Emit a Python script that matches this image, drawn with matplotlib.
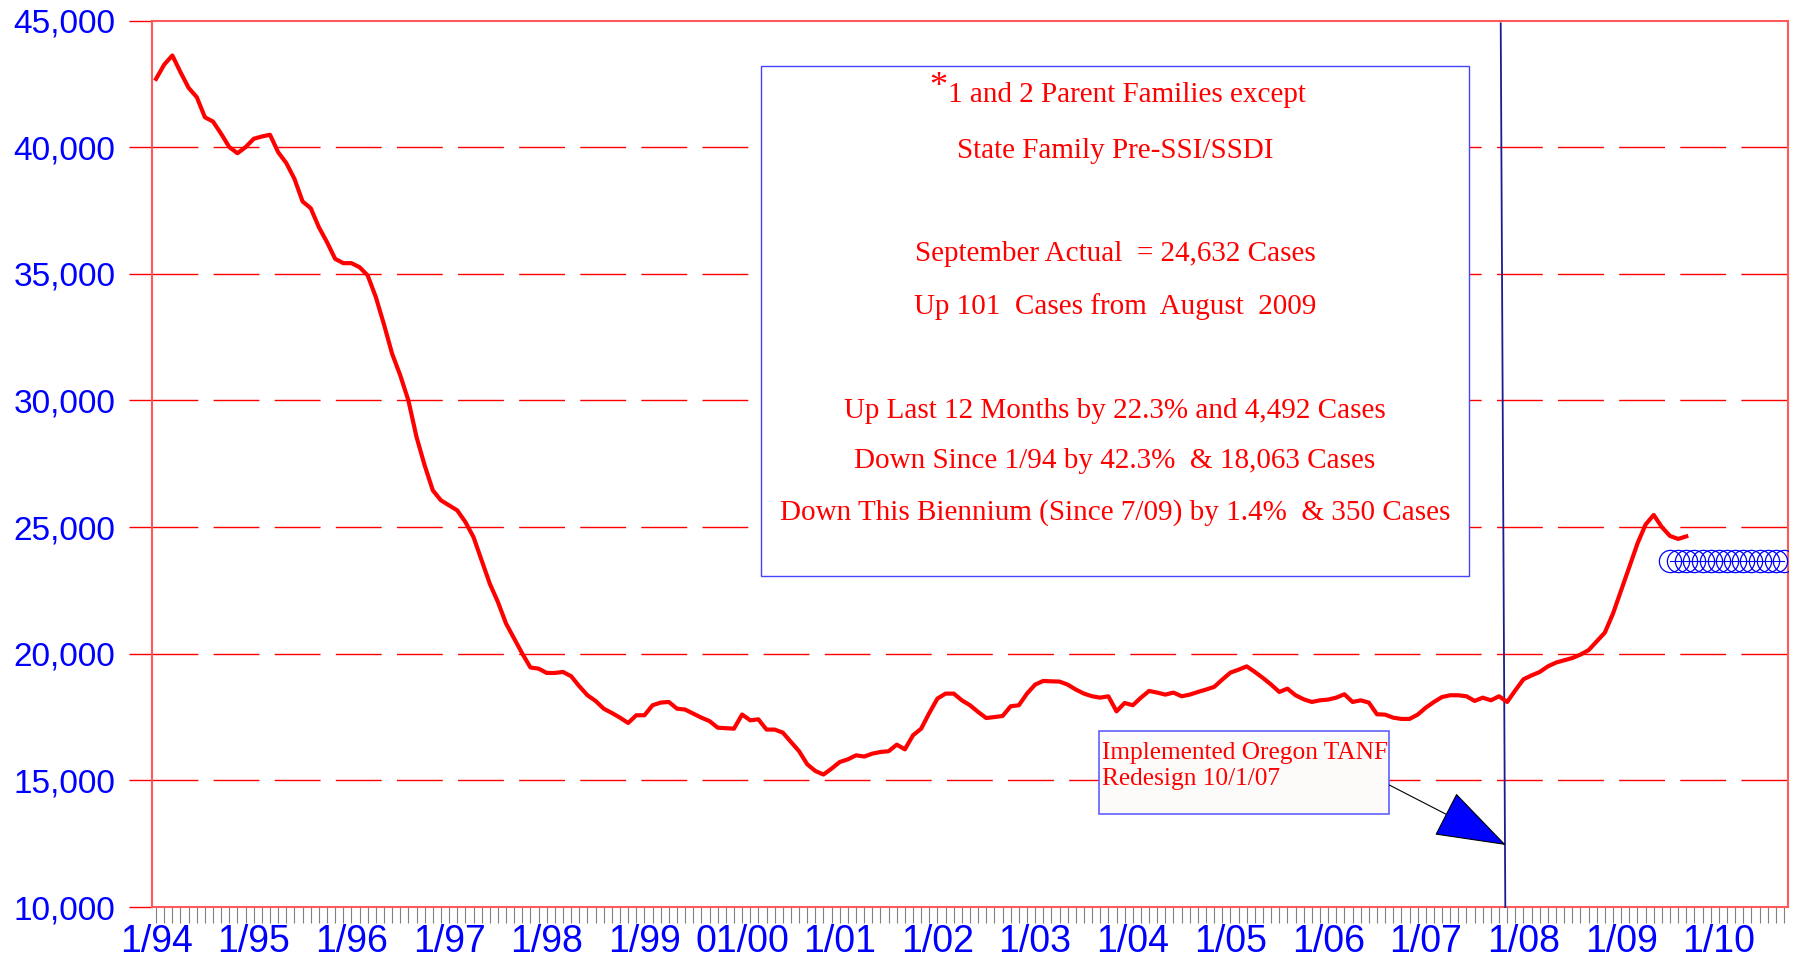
import numpy as np
import matplotlib
matplotlib.use("Agg")
import matplotlib.pyplot as plt
from matplotlib.patches import Rectangle

# monthly caseload, 1/94 .. 9/09
cases = [42695, 43260, 43620, 42960, 42340, 41975, 41180, 41010, 40525, 40000, 39760, 40000,
         40330, 40420, 40490, 39800, 39370, 38750, 37855, 37590, 36840, 36250, 35590, 35420,
         35420, 35260, 34935, 34080, 33000, 31845, 30990, 30000, 28555, 27435, 26450, 26055,
         25860, 25660, 25200, 24605, 23690, 22765, 22040, 21190, 20595, 20000, 19455, 19410,
         19240, 19240, 19280, 19110, 18715, 18360, 18135, 17830, 17660, 17475, 17265, 17570,
         17570, 17965, 18070, 18095, 17830, 17795, 17635, 17475, 17340, 17080, 17060, 17040,
         17600, 17370, 17410, 17005, 17005, 16885, 16515, 16150, 15635, 15370, 15230, 15465,
         15725, 15830, 15990, 15940, 16055, 16120, 16150, 16410, 16225, 16780, 17040, 17660,
         18230, 18425, 18425, 18160, 17965, 17700, 17460, 17500, 17540, 17925, 17965, 18425,
         18780, 18925, 18910, 18900, 18780, 18585, 18425, 18320, 18265, 18320, 17725, 18055,
         17965, 18265, 18530, 18465, 18385, 18465, 18320, 18385, 18490, 18585, 18690, 18980,
         19255, 19370, 19500, 19280, 19040, 18780, 18490, 18620, 18360, 18200, 18095, 18160,
         18190, 18265, 18400, 18095, 18160, 18070, 17610, 17595, 17475, 17425, 17425, 17595,
         17870, 18095, 18290, 18360, 18360, 18320, 18135, 18265, 18160, 18320, 18095, 18555,
         18990, 19145, 19280, 19500, 19650, 19740, 19830, 19965, 20140, 20490, 20835, 21585,
         22500, 23420, 24345, 25100, 25480, 25000, 24650, 24531, 24632]

# forecast level shown with circles, 7/09 .. 9/10
forecast_start = 186
forecast = [23680] * 15

n_months = 201  # 1/94 .. 9/10
year_labels = ['1/94', '1/95', '1/96', '1/97', '1/98', '1/99', '01/00', '1/01', '1/02',
               '1/03', '1/04', '1/05', '1/06', '1/07', '1/08', '1/09', '1/10']
y_ticks = [10000, 15000, 20000, 25000, 30000, 35000, 40000, 45000]

box_lines = ['State Family Pre-SSI/SSDI',
             'September Actual  = 24,632 Cases',
             'Up 101  Cases from  August  2009',
             'Up Last 12 Months by 22.3% and 4,492 Cases',
             'Down Since 1/94 by 42.3%  & 18,063 Cases',
             'Down This Biennium (Since 7/09) by 1.4%  & 350 Cases']

RED = '#ff0000'
BLUE = '#0000ff'
SPINE = '#ff5a5a'
serif = 'Liberation Serif'

fig = plt.figure(figsize=(17.95, 9.61), dpi=100)
ax = fig.add_axes([152 / 1795, 1 - 907 / 961, 1636 / 1795, 886.5 / 961])
ax.set_xlim(-0.5, n_months - 0.5)
ax.set_ylim(10000, 45000)

# dashed horizontal grid
for v in y_ticks[1:-1]:
    ax.axhline(v, color=RED, lw=1.0, ls=(0, (33, 11)), zorder=1)

x = np.arange(len(cases))
ax.plot(x, cases, color=RED, lw=3.0, zorder=4)

xf = np.arange(forecast_start, forecast_start + len(forecast))
ax.plot(xf, forecast, color=BLUE, lw=0.8, marker='o', ms=16, mfc='none',
        mec=BLUE, mew=0.9, zorder=4)

# y axis
ax.set_yticks(y_ticks)
ax.set_yticklabels([f'{v:,}' for v in y_ticks], color=BLUE, fontsize=24,
                   family='Liberation Sans')
ax.tick_params(axis='y', direction='out', length=16.5, width=1, color=RED, pad=10)

# x axis: one tick per month, label each January
ax.set_xticks(np.arange(0, n_months, 12))
ax.set_xticks(np.arange(n_months), minor=True)
ax.set_xticklabels(year_labels, color=BLUE, fontsize=27, family='Liberation Sans')
ax.tick_params(axis='x', which='both', direction='out', length=11.5, width=0.8,
               color='#808080', pad=1)

for s in ax.spines.values():
    s.set_color(SPINE)
    s.set_linewidth(1.5)

# main info box
ax.add_patch(Rectangle((0.3724, 0.3736), 0.4325, 0.5746, transform=ax.transAxes,
                       facecolor='white', edgecolor='#4444ff', lw=1.0, zorder=5))
ax.text(0.4865, 0.9197, '1 and 2 Parent Families except', transform=ax.transAxes,
        ha='left', va='center_baseline', color=RED, fontsize=21, family=serif, zorder=6)
ax.text(0.4860, 0.9285, '*', transform=ax.transAxes, ha='right', va='center_baseline',
        color=RED, fontsize=26, family=serif, zorder=6)
for ty, line in zip([0.8564, 0.7403, 0.6808, 0.5634, 0.5066, 0.4485], box_lines):
    ax.text(0.5886, ty, line, transform=ax.transAxes, ha='center', va='center_baseline',
            color=RED, fontsize=21, family=serif, zorder=6)

# redesign note
ax.add_patch(Rectangle((0.5789, 0.1049), 0.1774, 0.0936, transform=ax.transAxes,
                       facecolor='#fdfbf9', edgecolor='#6060ff', lw=1.2, zorder=5))
ax.text(0.5805, 0.1767, 'Implemented Oregon TANF', transform=ax.transAxes, ha='left',
        va='center_baseline', color=RED, fontsize=18.3, family=serif, zorder=6)
ax.text(0.5805, 0.1470, 'Redesign 10/1/07', transform=ax.transAxes, ha='left',
        va='center_baseline', color=RED, fontsize=18.3, family=serif, zorder=6)

# 10/1/07 marker line
ax.plot([0.8244, 0.8272], [0.9968, 0.0], transform=ax.transAxes, color='#1c1c90',
        lw=1.3, zorder=3, clip_on=False)
ax.annotate('', xy=(0.8276, 0.0699), xycoords='axes fraction',
            xytext=(0.7563, 0.1376), textcoords='axes fraction',
            arrowprops=dict(arrowstyle='-|>,head_length=4.7,head_width=1.6',
                            mutation_scale=10, fc=BLUE, ec='black', lw=0.8,
                            shrinkA=0, shrinkB=0), zorder=6)

fig.savefig('out.png', dpi=100)
